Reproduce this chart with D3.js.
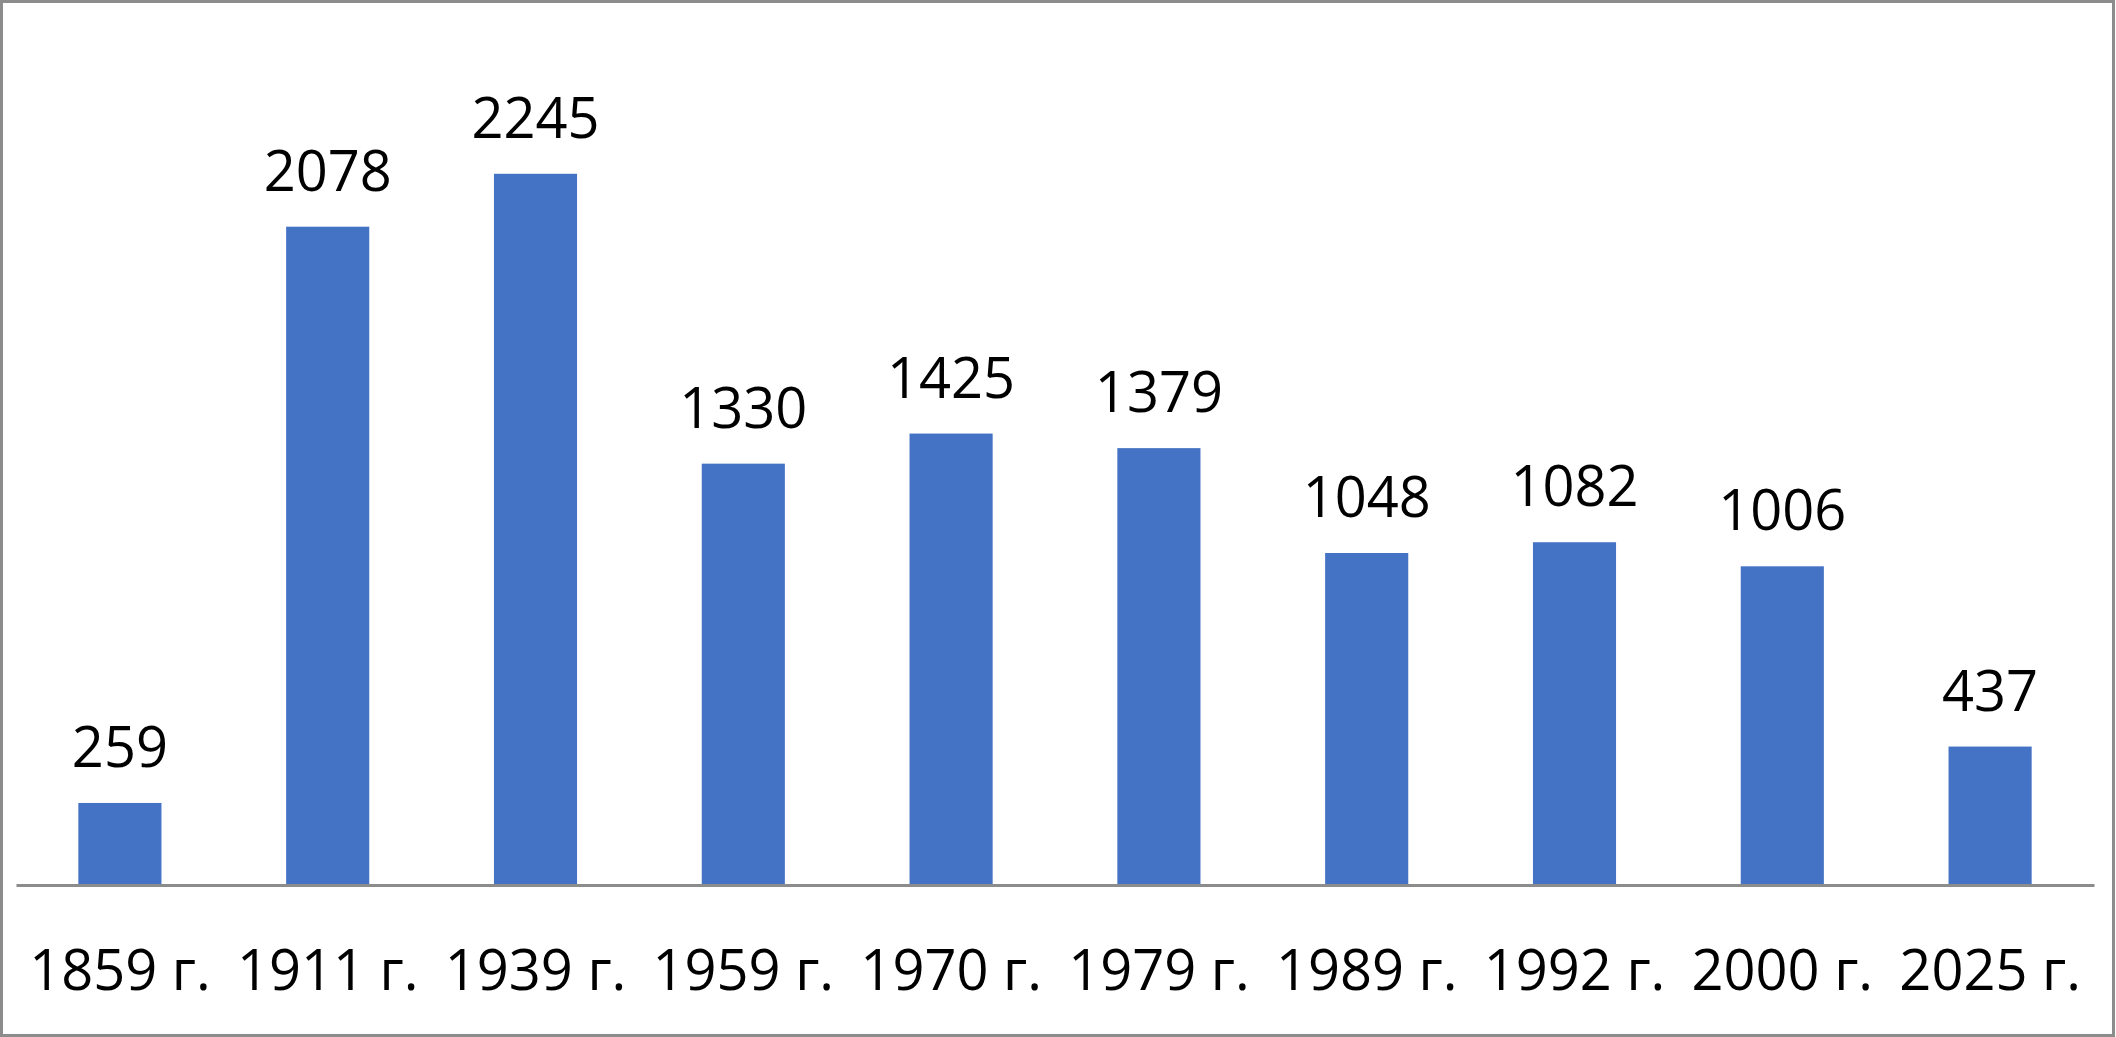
<!DOCTYPE html>
<html>
<head>
<meta charset="utf-8">
<script src="https://cdn.jsdelivr.net/npm/d3@7"></script>
<style>
  body { margin: 0; background: #fff; }
  svg { display: block; }
  text { font-family: "Open Sans", sans-serif; fill: #000; }
</style>
</head>
<body>
<svg id="chart" width="2116" height="1037"></svg>
<script>
// данные
const years = ["1859 г.", "1911 г.", "1939 г.", "1959 г.", "1970 г.", "1979 г.", "1989 г.", "1992 г.", "2000 г.", "2025 г."];
const counts = [259, 2078, 2245, 1330, 1425, 1379, 1048, 1082, 1006, 437];

const width = 2116, height = 1037;
const svg = d3.select("#chart");

// рамка
svg.append("rect")
  .attr("x", 1.5)
  .attr("y", 1.5)
  .attr("width", width - 4)
  .attr("height", height - 3)
  .attr("fill", "#fff")
  .attr("stroke", "#8c8c8c")
  .attr("stroke-width", 3);

const x = d3.scaleBand()
  .domain(years)
  .range([16, 2094])
  .paddingInner(0.6)
  .paddingOuter(0.3);

const y = d3.scaleLinear()
  .domain([0, 2500])
  .range([885, 93]);

// столбики
svg.selectAll(".bar")
  .data(counts)
  .join("rect")
  .attr("class", "bar")
  .attr("x", (d, i) => x(years[i]))
  .attr("y", d => y(d))
  .attr("width", x.bandwidth())
  .attr("height", d => y(0) - y(d))
  .attr("fill", "#4472C4");

// подписи значений
svg.selectAll(".value")
  .data(counts)
  .join("text")
  .attr("class", "value")
  .attr("x", (d, i) => x(years[i]) + x.bandwidth() / 2)
  .attr("y", d => y(d) - 36)
  .attr("text-anchor", "middle")
  .style("font-size", "56px")
  .text(d => d);

// ось X
const axis = svg.append("g")
  .attr("transform", `translate(0,${y(0)})`)
  .call(d3.axisBottom(x).tickSize(0).tickPadding(0));

axis.select(".domain")
  .attr("stroke", "#8c8c8c")
  .attr("stroke-width", 3);

axis.selectAll(".tick text")
  .attr("dy", null)
  .attr("y", 105)
  .style("font-family", "'Open Sans', sans-serif")
  .style("font-size", "56px")
  .attr("fill", "#000");
</script>
</body>
</html>
